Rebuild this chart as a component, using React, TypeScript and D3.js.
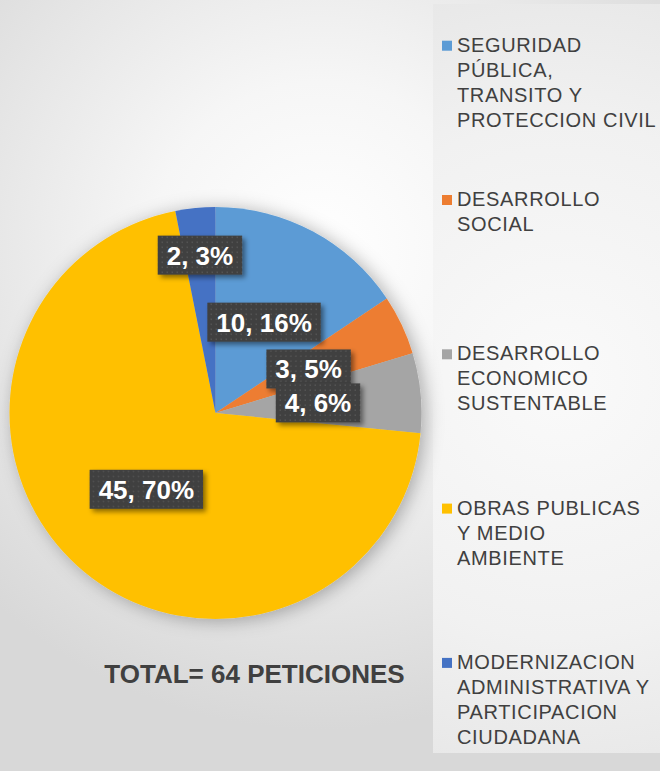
import React from "react";
import * as d3 from "d3";

const categories = [
  "SEGURIDAD PÚBLICA, TRANSITO Y PROTECCION CIVIL",
  "DESARROLLO SOCIAL",
  "DESARROLLO ECONOMICO SUSTENTABLE",
  "OBRAS PUBLICAS Y MEDIO AMBIENTE",
  "MODERNIZACION ADMINISTRATIVA Y PARTICIPACION CIUDADANA",
];
const legendLines = [
  ["SEGURIDAD", "PÚBLICA,", "TRANSITO Y", "PROTECCION CIVIL"],
  ["DESARROLLO", "SOCIAL"],
  ["DESARROLLO", "ECONOMICO", "SUSTENTABLE"],
  ["OBRAS PUBLICAS", "Y MEDIO", "AMBIENTE"],
  ["MODERNIZACION", "ADMINISTRATIVA Y", "PARTICIPACION", "CIUDADANA"],
];
const values = [10, 3, 4, 45, 2];
const colors = ["#5B9BD5", "#ED7D31", "#A5A5A5", "#FFC000", "#4472C4"];
const labelRadiusFactor = [0.5, 0.5, 0.5, 0.5, 0.77];
const totalLabel = "TOTAL= 64 PETICIONES";

const W = 660;
const H = 771;
const cx = 215.5;
const cy = 413;
const R = 206;

const labelFont = "bold 26px 'Liberation Sans', Arial, sans-serif";
let ctx: CanvasRenderingContext2D | null = null;
function measure(text: string): number {
  if (!ctx) ctx = document.createElement("canvas").getContext("2d");
  if (!ctx) return text.length * 14;
  ctx.font = labelFont;
  return ctx.measureText(text).width;
}

export default function App() {
  const total = d3.sum(values);
  const pie = d3
    .pie<number>()
    .sort(null)
    .value((d) => d)
    .startAngle(0)
    .endAngle(2 * Math.PI);
  const arcs = pie(values);
  const arcGen = d3.arc<d3.PieArcDatum<number>>().innerRadius(0).outerRadius(R);

  const legendX = 442;
  const legendY0 = 51.7;
  const legendStep = 154.3;
  const lineH = 25;

  return (
    <svg
      width={W}
      height={H}
      style={{ position: "absolute", left: 0, top: 0, display: "block" }}
      fontFamily="'Liberation Sans', Arial, sans-serif"
    >
      <defs>
        <radialGradient id="bg" gradientUnits="userSpaceOnUse" cx={320} cy={250} r={480}>
          <stop offset="0" stopColor="#ffffff" />
          <stop offset="0.35" stopColor="#f6f6f6" />
          <stop offset="0.7" stopColor="#e6e6e6" />
          <stop offset="1" stopColor="#d8d8d8" />
        </radialGradient>
        <radialGradient id="panel" gradientUnits="userSpaceOnUse" cx={560} cy={380} r={430}>
          <stop offset="0" stopColor="#fafafa" />
          <stop offset="0.6" stopColor="#f1f1f1" />
          <stop offset="1" stopColor="#e6e6e6" />
        </radialGradient>
        <filter id="pieShadow" x="-20%" y="-20%" width="140%" height="140%">
          <feDropShadow dx="4" dy="2" stdDeviation="9" floodColor="#000" floodOpacity="0.3" />
        </filter>
        <filter id="boxShadow" x="-20%" y="-30%" width="150%" height="170%">
          <feDropShadow dx="3" dy="3" stdDeviation="2.5" floodColor="#000" floodOpacity="0.45" />
        </filter>
        <pattern id="dots" width="5" height="5" patternUnits="userSpaceOnUse">
          <rect width="5" height="5" fill="#3f3f3f" />
          <rect x="1.5" y="1.5" width="1.5" height="1.5" fill="#555555" />
        </pattern>
      </defs>

      <rect width={W} height={H} fill="url(#bg)" />
      <rect x={433} y={4} width={W - 433} height={749} fill="url(#panel)" />

      <g transform={`translate(${cx},${cy})`}>
        <g filter="url(#pieShadow)">
          {arcs.map((a, i) => (
            <path key={i} d={arcGen(a) || ""} fill={colors[i]} />
          ))}
        </g>
        {arcs.map((a, i) => {
          const rl = R * labelRadiusFactor[i];
          const [lx, ly] = d3.arc<d3.PieArcDatum<number>>().innerRadius(rl).outerRadius(rl).centroid(a);
          const pct = Math.round((values[i] / total) * 100);
          const text = `${values[i]}, ${pct}%`;
          const tw = measure(text);
          const bw = tw + 18;
          const bh = 39;
          return (
            <g key={"l" + i} transform={`translate(${lx},${ly})`}>
              <rect x={-bw / 2} y={-bh / 2} width={bw} height={bh} fill="url(#dots)" filter="url(#boxShadow)" />
              <text
                x={0}
                y={9.5}
                textAnchor="middle"
                fill="#ffffff"
                fontWeight="bold"
                fontSize={26}
                style={{ font: labelFont }}
              >
                {text}
              </text>
            </g>
          );
        })}
      </g>

      <text
        x={254.5}
        y={683}
        textAnchor="middle"
        fontWeight="bold"
        fontSize={26}
        fill="#404040"
      >
        {totalLabel}
      </text>

      {categories.map((c, i) => {
        const by = legendY0 + i * legendStep;
        return (
          <g key={c}>
            <rect x={legendX} y={by - 11} width={10} height={10} fill={colors[i]} />
            {legendLines[i].map((ln, j) => (
              <text
                key={j}
                x={457}
                y={by + j * lineH}
                fontSize={20}
                letterSpacing={0.65}
                fill="#404040"
              >
                {ln}
              </text>
            ))}
          </g>
        );
      })}
    </svg>
  );
}
